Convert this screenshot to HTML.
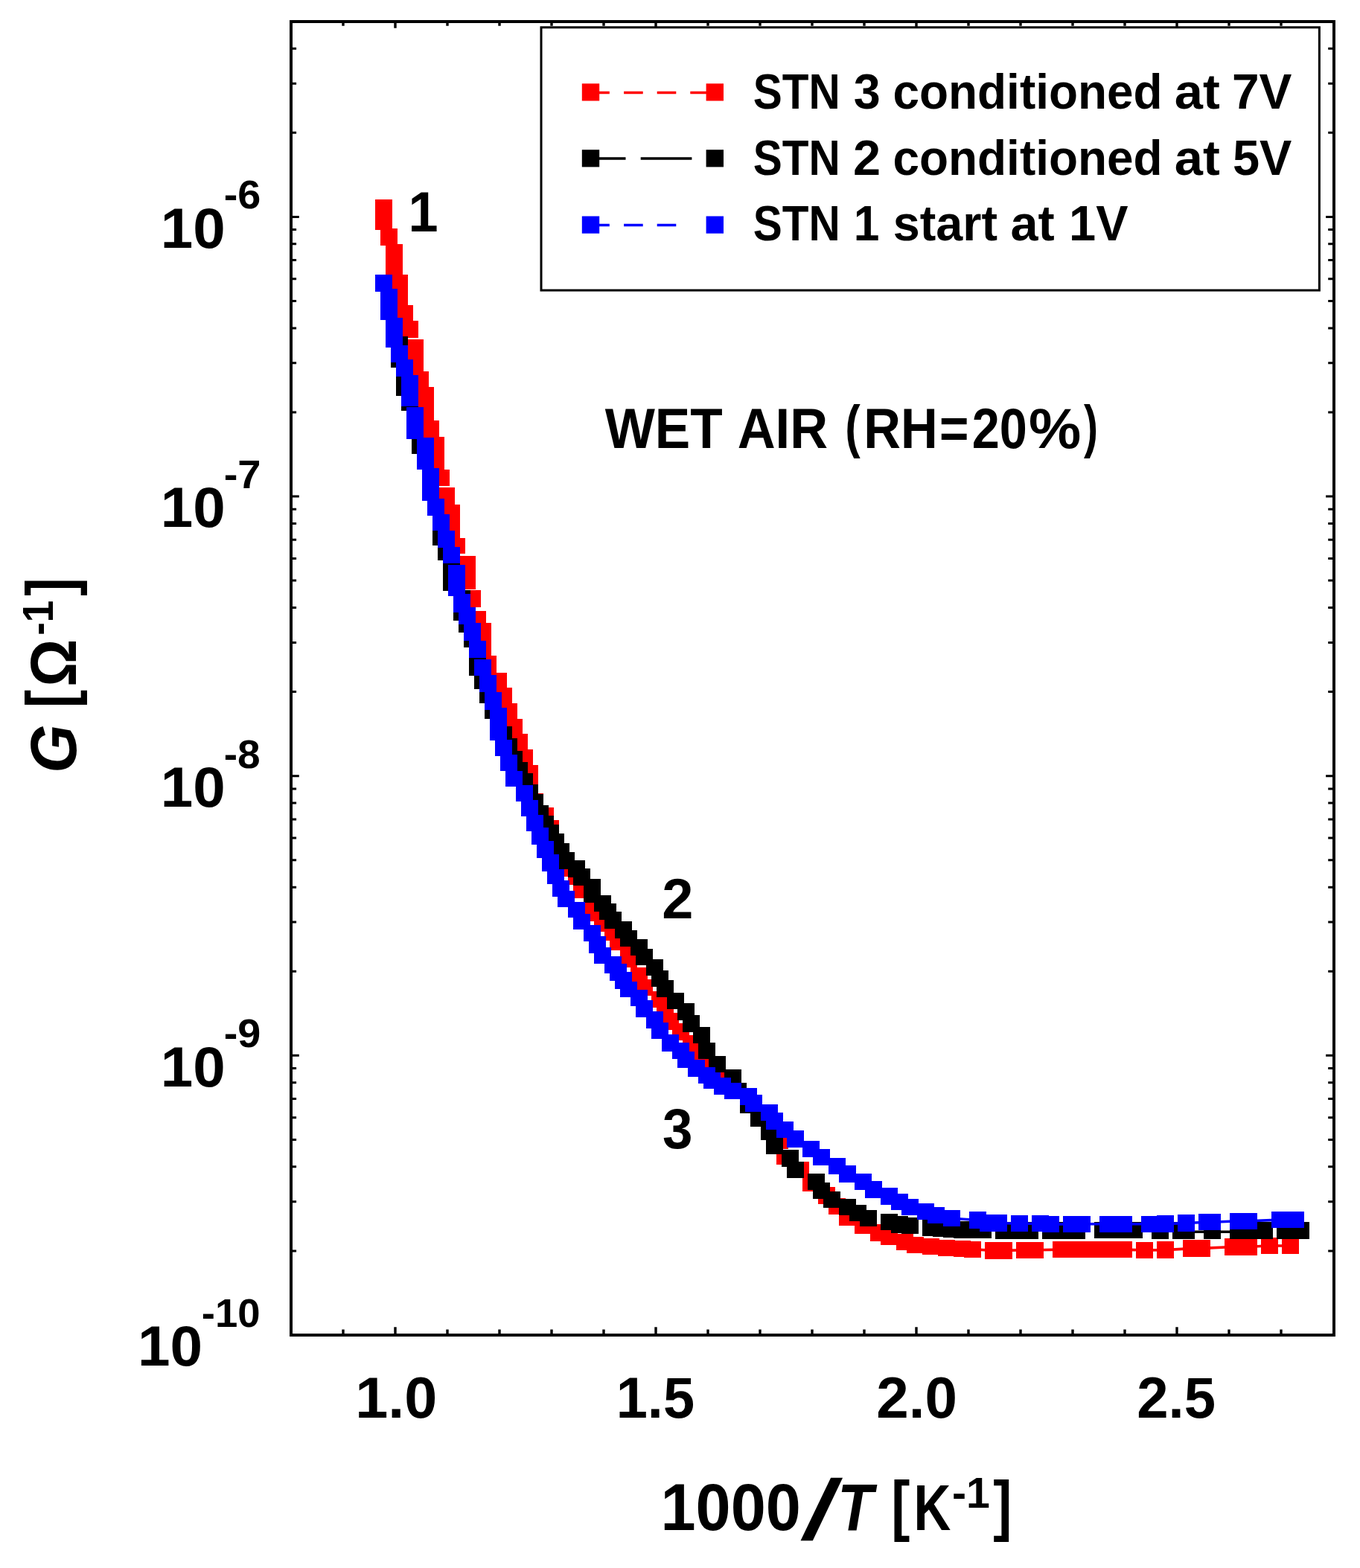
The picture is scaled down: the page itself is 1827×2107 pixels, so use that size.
<!DOCTYPE html>
<html lang="en"><head><meta charset="utf-8"><title>G vs 1000/T - wet air</title>
<style>html,body{margin:0;padding:0;background:#fff}svg{display:block}text{font-family:"Liberation Sans", sans-serif;font-weight:bold;white-space:pre}</style></head>
<body><svg width="1827" height="2107" viewBox="0 0 1827 2107">
<rect width="1827" height="2107" fill="#fff"/>
<g id="series-stn3"><polyline fill="none" stroke="#ff0000" stroke-width="3.6" points="1292.6,1678.2 1306.6,1678.8 1334.6,1680.4 1348.6,1680.4 1376.6,1679.7 1390.6,1679.7 1425.6,1679.1 1439.6,1679.1 1453.6,1679.1 1467.6,1679.1 1481.6,1679.1 1495.6,1679.1 1509.6,1679.1 1537.6,1680.0 1565.6,1679.6 1600.6,1677.6 1614.6,1677.4 1656.6,1675.5 1677.6,1675.5 1705.6,1673.7 1733.6,1674.2"/><g fill="#ff0000" shape-rendering="crispEdges"><rect x="504.4" y="267.8" width="22.3" height="40.8"/><rect x="511.4" y="306.9" width="22.3" height="22.9"/><rect x="518.4" y="328.1" width="22.3" height="41.9"/><rect x="525.4" y="369.4" width="22.3" height="41.6"/><rect x="532.4" y="410.1" width="22.3" height="21.9"/><rect x="539.4" y="431.3" width="22.3" height="22.4"/><rect x="546.4" y="455.6" width="22.3" height="44.4"/><rect x="553.4" y="499.2" width="22.3" height="21.8"/><rect x="560.4" y="520.1" width="22.3" height="45.9"/><rect x="567.4" y="565.0" width="22.3" height="23.0"/><rect x="574.4" y="587.3" width="22.3" height="44.7"/><rect x="581.4" y="631.2" width="22.3" height="21.7"/><rect x="588.4" y="654.6" width="22.3" height="23.4"/><rect x="595.4" y="677.5" width="22.3" height="46.5"/><rect x="602.4" y="723.2" width="22.3" height="21.2"/><rect x="616.4" y="746.7" width="22.3" height="45.2"/><rect x="623.4" y="793.0" width="22.3" height="22.9"/><rect x="630.4" y="820.6" width="22.3" height="22.4"/><rect x="637.4" y="837.4" width="22.3" height="43.6"/><rect x="644.4" y="880.9" width="22.3" height="24.1"/><rect x="658.4" y="904.4" width="22.3" height="21.6"/><rect x="665.4" y="924.1" width="22.3" height="22.3"/><rect x="672.4" y="945.1" width="22.3" height="22.3"/><rect x="679.4" y="965.5" width="22.3" height="22.5"/><rect x="686.4" y="986.1" width="22.3" height="22.3"/><rect x="693.4" y="1006.8" width="22.3" height="22.3"/><rect x="700.4" y="1028.0" width="22.3" height="26.0"/><rect x="707.4" y="1065.9" width="22.3" height="22.3"/><rect x="721.4" y="1084.9" width="22.3" height="22.3"/><rect x="728.4" y="1101.7" width="22.3" height="22.3"/><rect x="735.4" y="1119.5" width="22.3" height="22.3"/><rect x="749.4" y="1155.7" width="22.3" height="22.3"/><rect x="763.4" y="1166.4" width="22.3" height="22.3"/><rect x="770.4" y="1184.7" width="22.3" height="22.3"/><rect x="784.4" y="1212.0" width="22.3" height="25.7"/><rect x="798.4" y="1229.4" width="22.3" height="22.3"/><rect x="812.4" y="1241.6" width="22.3" height="22.3"/><rect x="819.4" y="1255.0" width="22.3" height="22.3"/><rect x="833.4" y="1272.2" width="22.3" height="27.8"/><rect x="847.4" y="1300.0" width="22.3" height="22.3"/><rect x="854.4" y="1316.0" width="22.3" height="22.3"/><rect x="875.4" y="1332.0" width="22.3" height="22.3"/><rect x="882.4" y="1347.0" width="22.3" height="22.3"/><rect x="889.4" y="1361.4" width="22.3" height="22.3"/><rect x="903.4" y="1375.3" width="22.3" height="22.3"/><rect x="917.4" y="1391.0" width="22.3" height="22.3"/><rect x="931.4" y="1405.0" width="22.3" height="22.3"/><rect x="945.4" y="1420.0" width="22.3" height="22.3"/><rect x="952.4" y="1430.0" width="22.3" height="22.3"/><rect x="973.4" y="1445.0" width="22.3" height="22.3"/><rect x="980.4" y="1454.7" width="22.3" height="22.3"/><rect x="994.4" y="1468.0" width="22.3" height="22.3"/><rect x="1008.4" y="1485.0" width="22.3" height="22.3"/><rect x="1022.4" y="1503.0" width="22.3" height="22.3"/><rect x="1036.4" y="1521.5" width="22.3" height="22.3"/><rect x="1043.4" y="1545.3" width="22.3" height="20.0"/><rect x="1064.4" y="1561.0" width="22.3" height="22.3"/><rect x="1078.4" y="1578.5" width="22.3" height="22.3"/><rect x="1099.4" y="1595.4" width="22.3" height="22.3"/><rect x="1113.4" y="1610.0" width="22.3" height="22.3"/><rect x="1127.4" y="1624.7" width="22.3" height="22.3"/><rect x="1148.4" y="1636.0" width="22.3" height="22.3"/><rect x="1169.4" y="1645.4" width="22.3" height="22.3"/><rect x="1183.4" y="1650.7" width="22.3" height="22.3"/><rect x="1204.4" y="1658.1" width="22.3" height="22.3"/><rect x="1218.4" y="1661.6" width="22.3" height="22.3"/><rect x="1239.4" y="1663.6" width="22.3" height="22.3"/><rect x="1260.4" y="1665.6" width="22.3" height="22.3"/><rect x="1281.4" y="1667.0" width="22.3" height="22.3"/><rect x="1295.4" y="1667.6" width="22.3" height="22.3"/><rect x="1323.4" y="1669.2" width="22.3" height="22.3"/><rect x="1337.4" y="1669.2" width="22.3" height="22.3"/><rect x="1365.4" y="1668.5" width="22.3" height="22.3"/><rect x="1379.4" y="1668.5" width="22.3" height="22.3"/><rect x="1414.4" y="1667.9" width="22.3" height="22.3"/><rect x="1428.4" y="1667.9" width="22.3" height="22.3"/><rect x="1442.4" y="1667.9" width="22.3" height="22.3"/><rect x="1456.4" y="1667.9" width="22.3" height="22.3"/><rect x="1470.4" y="1667.9" width="22.3" height="22.3"/><rect x="1484.4" y="1667.9" width="22.3" height="22.3"/><rect x="1498.4" y="1667.9" width="22.3" height="22.3"/><rect x="1526.4" y="1668.8" width="22.3" height="22.3"/><rect x="1554.4" y="1668.4" width="22.3" height="22.3"/><rect x="1589.4" y="1666.4" width="22.3" height="22.3"/><rect x="1603.4" y="1666.2" width="22.3" height="22.3"/><rect x="1645.4" y="1664.3" width="22.3" height="22.3"/><rect x="1666.4" y="1664.3" width="22.3" height="22.3"/><rect x="1694.4" y="1662.5" width="22.3" height="22.3"/><rect x="1722.4" y="1663.0" width="22.3" height="22.3"/></g></g>
<g id="series-stn2"><path d="M1600 1655.2H1622M1636 1655.2H1656" stroke="#000" stroke-width="3.4" fill="none"/><g fill="#000000" shape-rendering="crispEdges"><rect x="525.4" y="452.3" width="22.3" height="41.3"/><rect x="532.4" y="490.0" width="22.3" height="41.5"/><rect x="539.4" y="529.0" width="22.3" height="22.6"/><rect x="546.4" y="550.0" width="22.3" height="40.0"/><rect x="553.4" y="587.5" width="22.3" height="22.1"/><rect x="560.4" y="608.0" width="22.3" height="22.0"/><rect x="567.4" y="629.0" width="22.3" height="43.0"/><rect x="574.4" y="671.0" width="22.3" height="22.0"/><rect x="581.4" y="692.0" width="22.3" height="41.3"/><rect x="588.4" y="732.0" width="22.3" height="21.4"/><rect x="595.4" y="752.0" width="22.3" height="41.5"/><rect x="609.4" y="793.0" width="22.3" height="40.5"/><rect x="616.4" y="832.0" width="22.3" height="17.5"/><rect x="623.4" y="848.0" width="22.3" height="21.8"/><rect x="630.4" y="868.0" width="22.3" height="39.7"/><rect x="637.4" y="906.0" width="22.3" height="19.6"/><rect x="644.4" y="924.0" width="22.3" height="20.5"/><rect x="651.4" y="943.0" width="22.3" height="22.7"/><rect x="658.4" y="964.0" width="22.3" height="30.0"/><rect x="665.4" y="976.3" width="22.3" height="23.7"/><rect x="672.4" y="992.3" width="22.3" height="22.3"/><rect x="679.4" y="1009.0" width="22.3" height="22.3"/><rect x="686.4" y="1024.1" width="22.3" height="22.3"/><rect x="693.4" y="1038.6" width="22.3" height="22.3"/><rect x="700.4" y="1053.7" width="22.3" height="22.3"/><rect x="707.4" y="1067.1" width="22.3" height="22.3"/><rect x="714.4" y="1081.6" width="22.3" height="22.3"/><rect x="721.4" y="1095.5" width="22.3" height="22.3"/><rect x="728.4" y="1107.8" width="22.3" height="22.3"/><rect x="735.4" y="1120.1" width="22.3" height="22.3"/><rect x="742.4" y="1132.5" width="22.3" height="22.3"/><rect x="749.4" y="1145.4" width="22.3" height="22.3"/><rect x="763.4" y="1156.2" width="22.3" height="22.3"/><rect x="770.4" y="1167.4" width="22.3" height="22.3"/><rect x="784.4" y="1181.3" width="22.3" height="31.8"/><rect x="798.4" y="1202.5" width="22.3" height="22.3"/><rect x="805.4" y="1213.7" width="22.3" height="22.3"/><rect x="812.4" y="1225.4" width="22.3" height="22.3"/><rect x="826.4" y="1238.3" width="22.3" height="22.3"/><rect x="833.4" y="1250.0" width="22.3" height="22.3"/><rect x="847.4" y="1261.7" width="22.3" height="22.3"/><rect x="854.4" y="1275.1" width="22.3" height="22.3"/><rect x="868.4" y="1289.0" width="22.3" height="22.3"/><rect x="875.4" y="1303.7" width="22.3" height="22.3"/><rect x="882.4" y="1317.4" width="22.3" height="22.3"/><rect x="896.4" y="1333.6" width="22.3" height="22.3"/><rect x="910.4" y="1348.4" width="22.3" height="22.3"/><rect x="917.4" y="1364.2" width="22.3" height="22.3"/><rect x="931.4" y="1379.8" width="22.3" height="22.3"/><rect x="938.4" y="1401.0" width="22.3" height="22.3"/><rect x="952.4" y="1418.9" width="22.3" height="22.3"/><rect x="973.4" y="1437.0" width="22.3" height="22.3"/><rect x="980.4" y="1454.7" width="22.3" height="22.3"/><rect x="994.4" y="1473.2" width="22.3" height="22.3"/><rect x="1008.4" y="1492.0" width="22.3" height="22.3"/><rect x="1022.4" y="1510.0" width="22.3" height="22.3"/><rect x="1029.4" y="1528.4" width="22.3" height="22.3"/><rect x="1050.4" y="1545.2" width="22.3" height="22.3"/><rect x="1057.4" y="1560.6" width="22.3" height="22.3"/><rect x="1085.4" y="1576.7" width="22.3" height="22.3"/><rect x="1092.4" y="1588.7" width="22.3" height="22.3"/><rect x="1106.4" y="1600.8" width="22.3" height="22.3"/><rect x="1127.4" y="1610.8" width="22.3" height="22.3"/><rect x="1141.4" y="1618.8" width="22.3" height="22.3"/><rect x="1155.4" y="1625.5" width="22.3" height="22.3"/><rect x="1183.4" y="1630.9" width="22.3" height="22.3"/><rect x="1197.4" y="1634.2" width="22.3" height="22.3"/><rect x="1211.4" y="1635.5" width="22.3" height="22.3"/><rect x="1239.4" y="1639.0" width="22.3" height="22.3"/><rect x="1253.4" y="1640.0" width="22.3" height="22.3"/><rect x="1267.4" y="1640.7" width="22.3" height="22.3"/><rect x="1281.4" y="1641.2" width="22.3" height="22.3"/><rect x="1295.4" y="1641.5" width="22.3" height="22.3"/><rect x="1309.4" y="1641.5" width="22.3" height="22.3"/><rect x="1337.4" y="1642.2" width="22.3" height="22.3"/><rect x="1351.4" y="1642.2" width="22.3" height="22.3"/><rect x="1372.4" y="1642.2" width="22.3" height="22.3"/><rect x="1400.4" y="1642.2" width="22.3" height="22.3"/><rect x="1414.4" y="1642.2" width="22.3" height="22.3"/><rect x="1435.4" y="1642.2" width="22.3" height="22.3"/><rect x="1470.4" y="1642.0" width="22.3" height="22.3"/><rect x="1491.4" y="1642.0" width="22.3" height="22.3"/><rect x="1512.4" y="1642.0" width="22.3" height="22.3"/><rect x="1547.4" y="1642.4" width="22.3" height="22.3"/><rect x="1575.4" y="1642.4" width="22.3" height="22.3"/><rect x="1582.4" y="1642.4" width="22.3" height="22.3"/><rect x="1617.4" y="1642.4" width="22.3" height="22.3"/><rect x="1652.4" y="1642.4" width="22.3" height="22.3"/><rect x="1673.4" y="1642.4" width="22.3" height="22.3"/><rect x="1687.4" y="1642.4" width="22.3" height="22.3"/><rect x="1715.4" y="1642.4" width="22.3" height="22.3"/><rect x="1736.4" y="1642.4" width="22.3" height="22.3"/></g></g>
<g id="series-stn1"><polyline fill="none" stroke="#0000ff" stroke-width="3.6" points="1257.6,1632.8 1278.6,1637.2 1313.6,1639.5 1327.6,1643.5 1341.6,1643.5 1369.6,1644.2 1397.6,1644.2 1411.6,1645.2 1439.6,1644.8 1453.6,1644.8 1488.6,1644.8 1509.6,1644.8 1544.6,1644.8 1565.6,1644.6 1593.6,1643.5 1621.6,1642.2 1628.6,1642.2 1663.6,1640.7 1677.6,1640.7 1719.6,1639.1 1740.6,1639.1"/><g fill="#0000ff" shape-rendering="crispEdges"><rect x="504.4" y="369.4" width="22.3" height="22.3"/><rect x="511.4" y="388.4" width="22.3" height="41.3"/><rect x="518.4" y="427.4" width="22.3" height="39.4"/><rect x="525.4" y="464.0" width="22.3" height="22.9"/><rect x="532.4" y="483.0" width="22.3" height="22.8"/><rect x="539.4" y="503.6" width="22.3" height="42.4"/><rect x="546.4" y="547.1" width="22.3" height="43.0"/><rect x="560.4" y="587.9" width="22.3" height="42.7"/><rect x="567.4" y="628.6" width="22.3" height="43.9"/><rect x="574.4" y="670.2" width="22.3" height="22.9"/><rect x="581.4" y="690.9" width="22.3" height="22.3"/><rect x="588.4" y="712.6" width="22.3" height="22.9"/><rect x="595.4" y="735.0" width="22.3" height="21.7"/><rect x="602.4" y="759.0" width="22.3" height="41.8"/><rect x="609.4" y="797.5" width="22.3" height="25.4"/><rect x="616.4" y="816.3" width="22.3" height="22.3"/><rect x="623.4" y="837.3" width="22.3" height="23.5"/><rect x="630.4" y="860.8" width="22.3" height="22.9"/><rect x="637.4" y="885.9" width="22.3" height="21.8"/><rect x="644.4" y="906.6" width="22.3" height="22.9"/><rect x="651.4" y="930.0" width="22.3" height="23.5"/><rect x="658.4" y="950.7" width="22.3" height="43.9"/><rect x="665.4" y="994.0" width="22.3" height="21.8"/><rect x="672.4" y="1013.5" width="22.3" height="22.9"/><rect x="679.4" y="1035.8" width="22.3" height="21.2"/><rect x="693.4" y="1054.8" width="22.3" height="21.7"/><rect x="700.4" y="1075.4" width="22.3" height="21.6"/><rect x="707.4" y="1095.0" width="22.3" height="21.7"/><rect x="714.4" y="1112.3" width="22.3" height="22.8"/><rect x="721.4" y="1129.6" width="22.3" height="23.4"/><rect x="728.4" y="1148.0" width="22.3" height="22.8"/><rect x="735.4" y="1167.5" width="22.3" height="20.6"/><rect x="742.4" y="1182.5" width="22.3" height="22.3"/><rect x="749.4" y="1197.0" width="22.3" height="22.3"/><rect x="763.4" y="1211.5" width="22.3" height="21.7"/><rect x="770.4" y="1228.2" width="22.3" height="20.7"/><rect x="784.4" y="1242.7" width="22.3" height="21.8"/><rect x="791.4" y="1257.8" width="22.3" height="22.9"/><rect x="798.4" y="1272.9" width="22.3" height="22.3"/><rect x="812.4" y="1285.1" width="22.3" height="22.4"/><rect x="819.4" y="1294.6" width="22.3" height="22.9"/><rect x="826.4" y="1306.3" width="22.3" height="22.4"/><rect x="833.4" y="1318.6" width="22.3" height="21.2"/><rect x="847.4" y="1329.8" width="22.3" height="22.3"/><rect x="854.4" y="1344.3" width="22.3" height="22.3"/><rect x="868.4" y="1359.2" width="22.3" height="22.3"/><rect x="875.4" y="1373.7" width="22.3" height="22.3"/><rect x="889.4" y="1390.4" width="22.3" height="22.3"/><rect x="903.4" y="1401.0" width="22.3" height="22.3"/><rect x="910.4" y="1412.7" width="22.3" height="22.3"/><rect x="924.4" y="1424.4" width="22.3" height="22.3"/><rect x="938.4" y="1433.9" width="22.3" height="22.3"/><rect x="945.4" y="1440.6" width="22.3" height="22.3"/><rect x="959.4" y="1448.4" width="22.3" height="22.3"/><rect x="973.4" y="1454.6" width="22.3" height="22.3"/><rect x="994.4" y="1462.3" width="22.3" height="22.3"/><rect x="1001.4" y="1471.4" width="22.3" height="22.3"/><rect x="1022.4" y="1483.5" width="22.3" height="22.3"/><rect x="1029.4" y="1495.2" width="22.3" height="22.3"/><rect x="1043.4" y="1506.8" width="22.3" height="22.3"/><rect x="1057.4" y="1519.2" width="22.3" height="22.3"/><rect x="1078.4" y="1532.5" width="22.3" height="22.3"/><rect x="1092.4" y="1543.8" width="22.3" height="22.3"/><rect x="1113.4" y="1555.5" width="22.3" height="22.3"/><rect x="1127.4" y="1566.3" width="22.3" height="22.3"/><rect x="1148.4" y="1576.7" width="22.3" height="22.3"/><rect x="1162.4" y="1587.4" width="22.3" height="22.3"/><rect x="1183.4" y="1596.4" width="22.3" height="22.3"/><rect x="1197.4" y="1603.9" width="22.3" height="22.3"/><rect x="1211.4" y="1610.9" width="22.3" height="22.3"/><rect x="1232.4" y="1616.9" width="22.3" height="22.3"/><rect x="1246.4" y="1621.6" width="22.3" height="22.3"/><rect x="1267.4" y="1626.0" width="22.3" height="22.3"/><rect x="1302.4" y="1628.3" width="22.3" height="22.3"/><rect x="1316.4" y="1632.3" width="22.3" height="22.3"/><rect x="1330.4" y="1632.3" width="22.3" height="22.3"/><rect x="1358.4" y="1633.0" width="22.3" height="22.3"/><rect x="1386.4" y="1633.0" width="22.3" height="22.3"/><rect x="1400.4" y="1634.0" width="22.3" height="22.3"/><rect x="1428.4" y="1633.6" width="22.3" height="22.3"/><rect x="1442.4" y="1633.6" width="22.3" height="22.3"/><rect x="1477.4" y="1633.6" width="22.3" height="22.3"/><rect x="1498.4" y="1633.6" width="22.3" height="22.3"/><rect x="1533.4" y="1633.6" width="22.3" height="22.3"/><rect x="1554.4" y="1633.4" width="22.3" height="22.3"/><rect x="1582.4" y="1632.3" width="22.3" height="22.3"/><rect x="1610.4" y="1631.0" width="22.3" height="22.3"/><rect x="1617.4" y="1631.0" width="22.3" height="22.3"/><rect x="1652.4" y="1629.5" width="22.3" height="22.3"/><rect x="1666.4" y="1629.5" width="22.3" height="22.3"/><rect x="1708.4" y="1627.9" width="22.3" height="22.3"/><rect x="1729.4" y="1627.9" width="22.3" height="22.3"/></g></g>
<g stroke="#000" stroke-width="3.4" fill="none"><path d="M461.0 1794.0V1786.4M461.0 29.0V34.8"/><path d="M531.0 1794.0V1783.2M531.0 29.0V37.8"/><path d="M601.0 1794.0V1786.4M601.0 29.0V34.8"/><path d="M671.0 1794.0V1786.4M671.0 29.0V34.8"/><path d="M741.0 1794.0V1786.4M741.0 29.0V34.8"/><path d="M811.0 1794.0V1786.4M811.0 29.0V34.8"/><path d="M881.0 1794.0V1783.2M881.0 29.0V37.8"/><path d="M951.0 1794.0V1786.4M951.0 29.0V34.8"/><path d="M1021.0 1794.0V1786.4M1021.0 29.0V34.8"/><path d="M1091.0 1794.0V1786.4M1091.0 29.0V34.8"/><path d="M1161.0 1794.0V1786.4M1161.0 29.0V34.8"/><path d="M1231.0 1794.0V1783.2M1231.0 29.0V37.8"/><path d="M1301.0 1794.0V1786.4M1301.0 29.0V34.8"/><path d="M1371.0 1794.0V1786.4M1371.0 29.0V34.8"/><path d="M1441.0 1794.0V1786.4M1441.0 29.0V34.8"/><path d="M1511.0 1794.0V1786.4M1511.0 29.0V34.8"/><path d="M1581.0 1794.0V1783.2M1581.0 29.0V37.8"/><path d="M1651.0 1794.0V1786.4M1651.0 29.0V34.8"/><path d="M1721.0 1794.0V1786.4M1721.0 29.0V34.8"/></g><g stroke="#000" stroke-width="3" fill="none"><path d="M391.0 1680.9H398.1M1792.0 1680.9H1784.2"/><path d="M391.0 1614.8H398.1M1792.0 1614.8H1784.2"/><path d="M391.0 1567.8H398.1M1792.0 1567.8H1784.2"/><path d="M391.0 1531.4H398.1M1792.0 1531.4H1784.2"/><path d="M391.0 1501.7H398.1M1792.0 1501.7H1784.2"/><path d="M391.0 1476.5H398.1M1792.0 1476.5H1784.2"/><path d="M391.0 1454.8H398.1M1792.0 1454.8H1784.2"/><path d="M391.0 1435.5H398.1M1792.0 1435.5H1784.2"/><path d="M391.0 1418.3H401.8M1792.0 1418.3H1781.1"/><path d="M391.0 1305.3H398.1M1792.0 1305.3H1784.2"/><path d="M391.0 1239.1H398.1M1792.0 1239.1H1784.2"/><path d="M391.0 1192.2H398.1M1792.0 1192.2H1784.2"/><path d="M391.0 1155.8H398.1M1792.0 1155.8H1784.2"/><path d="M391.0 1126.0H398.1M1792.0 1126.0H1784.2"/><path d="M391.0 1100.9H398.1M1792.0 1100.9H1784.2"/><path d="M391.0 1079.1H398.1M1792.0 1079.1H1784.2"/><path d="M391.0 1059.9H398.1M1792.0 1059.9H1784.2"/><path d="M391.0 1042.7H401.8M1792.0 1042.7H1781.1"/><path d="M391.0 929.6H398.1M1792.0 929.6H1784.2"/><path d="M391.0 863.5H398.1M1792.0 863.5H1784.2"/><path d="M391.0 816.5H398.1M1792.0 816.5H1784.2"/><path d="M391.0 780.1H398.1M1792.0 780.1H1784.2"/><path d="M391.0 750.4H398.1M1792.0 750.4H1784.2"/><path d="M391.0 725.2H398.1M1792.0 725.2H1784.2"/><path d="M391.0 703.5H398.1M1792.0 703.5H1784.2"/><path d="M391.0 684.2H398.1M1792.0 684.2H1784.2"/><path d="M391.0 667.0H401.8M1792.0 667.0H1781.1"/><path d="M391.0 554.0H398.1M1792.0 554.0H1784.2"/><path d="M391.0 487.8H398.1M1792.0 487.8H1784.2"/><path d="M391.0 440.9H398.1M1792.0 440.9H1784.2"/><path d="M391.0 404.5H398.1M1792.0 404.5H1784.2"/><path d="M391.0 374.7H398.1M1792.0 374.7H1784.2"/><path d="M391.0 349.6H398.1M1792.0 349.6H1784.2"/><path d="M391.0 327.8H398.1M1792.0 327.8H1784.2"/><path d="M391.0 308.6H398.1M1792.0 308.6H1784.2"/><path d="M391.0 291.4H401.8M1792.0 291.4H1781.1"/><path d="M391.0 178.3H398.1M1792.0 178.3H1784.2"/><path d="M391.0 112.2H398.1M1792.0 112.2H1784.2"/><path d="M391.0 65.2H398.1M1792.0 65.2H1784.2"/></g>
<rect x="391.0" y="29.0" width="1401.0" height="1765.0" fill="none" stroke="#000" stroke-width="4"/>
<g id="legend">
<rect x="727" y="36.8" width="1045.4" height="353.3" fill="#fff" stroke="#000" stroke-width="3"/>
<path d="M793.5 124.5H818.8M838.1 124.5H863.7M882.7 124.5H908.3M927.3 124.5H960" stroke="#ff0000" stroke-width="3.6" fill="none"/>
<rect x="781.8" y="112.3" width="23.4" height="23.2" fill="#ff0000"/><rect x="948.6" y="112.3" width="23.4" height="23.2" fill="#ff0000"/>
<path d="M793.5 213H840.5M860.7 213H929.4" stroke="#000000" stroke-width="3.6" fill="none"/>
<rect x="781.8" y="201.2" width="23.4" height="23.2" fill="#000000"/><rect x="948.6" y="201.2" width="23.4" height="23.2" fill="#000000"/>
<path d="M793.5 302.5H818.8M838.1 302.5H863.7M882.7 302.5H908.3" stroke="#0000ff" stroke-width="3.6" fill="none"/>
<rect x="781.8" y="290.5" width="23.4" height="23.2" fill="#0000ff"/><rect x="948.6" y="290.5" width="23.4" height="23.2" fill="#0000ff"/>
<text transform="translate(1011.64,145.90) scale(0.8735,1)" font-size="67.00" fill="#000">STN</text>
<text transform="translate(1146.78,145.90) scale(0.9649,1)" font-size="67.00" fill="#000">3</text>
<text transform="translate(1199.44,145.90) scale(0.9543,1)" font-size="67.00" fill="#000">conditioned</text>
<text transform="translate(1577.74,145.90) scale(1.0245,1)" font-size="67.00" fill="#000">at</text>
<text transform="translate(1654.94,145.90) scale(0.9823,1)" font-size="67.00" fill="#000">7V</text>
<text transform="translate(1011.64,234.50) scale(0.8735,1)" font-size="67.00" fill="#000">STN</text>
<text transform="translate(1146.07,234.50) scale(0.9950,1)" font-size="67.00" fill="#000">2</text>
<text transform="translate(1199.44,234.50) scale(0.9543,1)" font-size="67.00" fill="#000">conditioned</text>
<text transform="translate(1577.74,234.50) scale(1.0245,1)" font-size="67.00" fill="#000">at</text>
<text transform="translate(1655.95,234.50) scale(0.9698,1)" font-size="67.00" fill="#000">5V</text>
<text transform="translate(1011.64,323.30) scale(0.8735,1)" font-size="67.00" fill="#000">STN</text>
<text transform="translate(1146.65,323.30) scale(0.9308,1)" font-size="67.00" fill="#000">1</text>
<text transform="translate(1199.73,323.30) scale(0.9666,1)" font-size="67.00" fill="#000">start</text>
<text transform="translate(1357.40,323.30) scale(0.9944,1)" font-size="67.00" fill="#000">at</text>
<text transform="translate(1436.08,323.30) scale(0.9695,1)" font-size="67.00" fill="#000">1V</text>
</g>
<g id="note">
<text transform="translate(812.70,601.60) scale(0.9384,1)" font-size="75.80" fill="#000">WET</text>
<text transform="translate(990.64,601.60) scale(0.9302,1)" font-size="75.80" fill="#000">AIR</text>
<text transform="translate(1135.13,600.24) scale(0.8104,1.0342)" font-size="75.80" fill="#000">(</text>
<text transform="translate(1160.32,601.60) scale(0.9084,1)" font-size="75.80" fill="#000">RH</text>
<text transform="translate(1262.10,601.60) scale(0.8908,1)" font-size="75.80" fill="#000">=</text>
<text transform="translate(1305.77,601.60) scale(0.8795,1)" font-size="75.80" fill="#000">20</text>
<text transform="translate(1381.92,601.60) scale(1.0428,1)" font-size="75.80" fill="#000">%</text>
<text transform="translate(1455.91,600.24) scale(0.7539,1.0342)" font-size="75.80" fill="#000">)</text>
</g>
<text transform="translate(548.52,310.70) scale(0.9417,1)" font-size="76.50" fill="#000">1</text>
<text transform="translate(889.15,1233.80) scale(0.9913,1)" font-size="76.50" fill="#000">2</text>
<text transform="translate(889.98,1543.00) scale(0.9507,1)" font-size="76.50" fill="#000">3</text>
<g id="yticklabels">
<text transform="translate(185.01,1835.20) scale(1.0236,1)" font-size="76.50" fill="#000">10</text>
<text transform="translate(270.82,1783.40) scale(1.0202,1)" font-size="53.50" fill="#000">-10</text>
<text transform="translate(215.72,1459.55) scale(1.0223,1)" font-size="76.50" fill="#000">10</text>
<text transform="translate(300.67,1407.15) scale(1.0430,1)" font-size="53.50" fill="#000">-9</text>
<text transform="translate(215.72,1083.90) scale(1.0223,1)" font-size="76.50" fill="#000">10</text>
<text transform="translate(300.70,1031.50) scale(1.0303,1)" font-size="53.50" fill="#000">-8</text>
<text transform="translate(215.72,708.25) scale(1.0223,1)" font-size="76.50" fill="#000">10</text>
<text transform="translate(300.65,655.85) scale(1.0495,1)" font-size="53.50" fill="#000">-7</text>
<text transform="translate(215.72,332.60) scale(1.0223,1)" font-size="76.50" fill="#000">10</text>
<text transform="translate(300.67,280.20) scale(1.0430,1)" font-size="53.50" fill="#000">-6</text>
</g><g id="xticklabels">
<text transform="translate(477.15,1905.20) scale(1.0289,1)" font-size="77.00" fill="#000">1.0</text>
<text transform="translate(827.67,1905.20) scale(0.9848,1)" font-size="77.00" fill="#000">1.5</text>
<text transform="translate(1177.26,1905.20) scale(1.0153,1)" font-size="77.00" fill="#000">2.0</text>
<text transform="translate(1527.23,1905.20) scale(0.9890,1)" font-size="77.00" fill="#000">2.5</text>
</g>
<g id="xtitle">
<text transform="translate(887.50,2055.70) scale(0.9622,1)" font-size="88.00" fill="#000">1000</text>
<text transform="translate(1074.79,2067.93) skewX(-14.00) scale(1.5617,1.2889)" font-size="88.00" fill="#000">/</text>
<text transform="translate(1125.34,2055.70) scale(0.8867,1)" font-size="88.00" font-style="italic" fill="#000">T</text>
<text transform="translate(1197.25,2052.95) scale(0.8576,1.0148)" font-size="88.00" fill="#000">[</text>
<text transform="translate(1227.62,2055.70) scale(0.7840,1)" font-size="88.00" fill="#000">K</text>
<text transform="translate(1278.91,2025.60) scale(0.9968,1)" font-size="57.50" fill="#000">-1</text>
<text transform="translate(1334.15,2052.95) scale(0.8576,1.0148)" font-size="88.00" fill="#000">]</text>
</g><g id="ytitle">
<text transform="rotate(-90) translate(-1038.79,102.30) scale(0.9532,1)" font-size="88.00" font-style="italic" fill="#000">G</text>
<text transform="rotate(-90) translate(-951.15,98.13) scale(0.8362,1.0209)" font-size="88.00" fill="#000">[</text>
<text transform="rotate(-90) translate(-922.69,101.80) scale(0.9075,1)" font-size="88.00" fill="#000">Ω</text>
<text transform="rotate(-90) translate(-853.81,71.30) scale(0.9183,1)" font-size="57.50" fill="#000">-1</text>
<text transform="rotate(-90) translate(-800.94,98.13) scale(0.8448,1.0209)" font-size="88.00" fill="#000">]</text>
</g>
</svg></body></html>
